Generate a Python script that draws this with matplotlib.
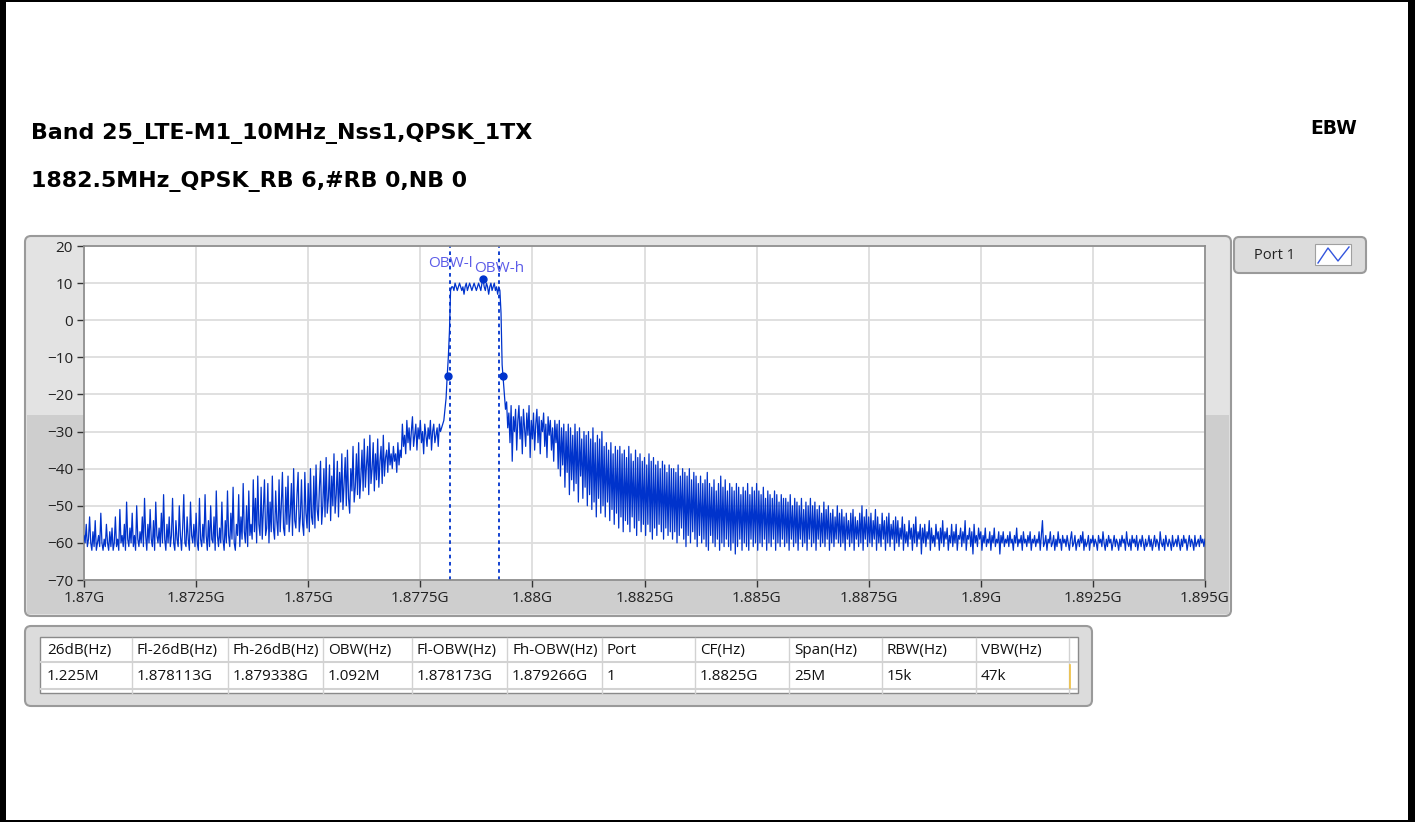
import numpy as np
import matplotlib.pyplot as plt
from matplotlib.patches import FancyBboxPatch, Rectangle

# canvas size in pixels (dpi 100)
W, H = 1415, 822

# spectrum trace, Port 1: 1.870 GHz .. 1.895 GHz, 25 kHz step, level in dBm
f_start_ghz = 1.870
f_stop_ghz = 1.895
level_dbm = [
    -58, -60, -55, -61, -59, -53, -60, -62, -57, -61, -54, -62, -60, -58, -61, -52, -60, -62, -59, -61, -55, -60, -62, -57, -61,
    -56, -62, -60, -53, -61, -59, -62, -51, -60, -58, -61, -55, -62, -49, -59, -61, -56, -60, -52, -61, -58, -62, -50, -59, -61,
    -57, -60, -53, -61, -48, -58, -62, -55, -60, -51, -59, -61, -54, -62, -49, -58, -60, -56, -61, -52, -60, -47, -59, -62, -55,
    -60, -53, -61, -58, -48, -60, -62, -54, -59, -61, -50, -58, -62, -56, -47, -60, -61, -53, -59, -62, -49, -58, -60, -55, -61,
    -52, -60, -62, -48, -59, -61, -55, -60, -47, -58, -62, -54, -61, -50, -59, -60, -53, -62, -46, -58, -61, -56, -60, -49, -59,
    -62, -54, -60, -46, -58, -61, -52, -59, -45, -60, -62, -55, -58, -47, -61, -53, -59, -44, -57, -60, -50, -61, -46, -58, -55,
    -59, -43, -57, -48, -60, -42, -55, -58, -45, -59, -51, -43, -58, -56, -44, -60, -49, -57, -42, -56, -59, -46, -54, -58, -43,
    -57, -50, -41, -56, -58, -45, -55, -42, -57, -52, -44, -58, -40, -54, -56, -47, -41, -57, -53, -43, -55, -58, -41, -52, -56,
    -44, -57, -40, -53, -55, -42, -56, -39, -51, -54, -45, -38, -55, -50, -40, -53, -37, -52, -48, -39, -54, -42, -50, -36, -52,
    -47, -38, -53, -41, -49, -36, -51, -44, -37, -50, -35, -48, -52, -40, -46, -34, -49, -45, -36, -47, -33, -48, -42, -35, -46,
    -32, -45, -39, -34, -47, -31, -44, -40, -33, -46, -36, -43, -32, -45, -38, -34, -44, -31, -42, -37, -35, -41, -33, -39, -36,
    -40, -34, -38, -36, -41, -33, -39, -35, -37, -28, -34, -31, -36, -27, -33, -29, -35, -30, -26, -34, -31, -28, -35, -29, -32,
    -27, -33, -30, -36, -28, -31, -34, -29, -32, -27, -35, -30, -28, -33, -31, -29, -34, -28, -30, -29, -28, -27, -24, -21, -15,
    -10, -3, 8, 9, 9, 8, 10, 9, 8, 9, 10, 9, 8, 9, 7, 9, 10, 8, 9, 10, 9, 8, 9, 10, 9,
    8, 9, 10, 9, 8, 10, 11, 9, 8, 10, 9, 7, 9, 10, 8, 9, 10, 8, 9, 7, 9, 8, 2, -12, -16,
    -20, -24, -22, -29, -25, -33, -23, -38, -26, -30, -24, -35, -27, -23, -32, -26, -36, -24, -29, -34, -25, -31, -23, -37, -27,
    -32, -25, -35, -28, -24, -33, -26, -36, -27, -30, -25, -34, -28, -37, -26, -31, -27, -35, -29, -38, -27, -33, -28, -40, -27,
    -42, -29, -39, -28, -45, -30, -41, -28, -47, -29, -43, -31, -46, -28, -44, -30, -49, -29, -42, -32, -48, -30, -45, -31, -50,
    -30, -47, -32, -51, -29, -49, -33, -53, -31, -48, -32, -52, -30, -50, -34, -53, -33, -49, -35, -54, -33, -51, -36, -55, -34,
    -52, -35, -56, -34, -53, -36, -57, -35, -54, -37, -55, -34, -57, -36, -53, -38, -56, -35, -58, -37, -54, -36, -57, -38, -55,
    -37, -58, -39, -55, -36, -57, -38, -59, -37, -56, -39, -58, -38, -55, -40, -57, -38, -59, -39, -56, -41, -58, -39, -57, -40,
    -59, -40, -57, -41, -60, -39, -58, -42, -56, -40, -59, -41, -61, -42, -58, -40, -60, -43, -57, -41, -59, -42, -61, -44, -58,
    -42, -60, -44, -59, -43, -61, -41, -62, -44, -58, -45, -60, -43, -61, -46, -59, -44, -62, -42, -60, -45, -61, -43, -59, -46,
    -61, -44, -62, -45, -60, -46, -63, -44, -61, -45, -59, -47, -62, -45, -60, -46, -61, -44, -62, -47, -59, -45, -61, -46, -60,
    -44, -62, -46, -60, -47, -61, -45, -59, -48, -62, -46, -60, -47, -61, -48, -59, -46, -62, -47, -60, -49, -61, -47, -59, -48,
    -61, -48, -60, -49, -62, -47, -59, -50, -61, -48, -60, -49, -62, -50, -59, -48, -61, -51, -60, -49, -62, -50, -59, -48, -61,
    -50, -60, -49, -62, -51, -59, -50, -61, -52, -60, -49, -61, -51, -59, -50, -62, -52, -60, -51, -61, -53, -59, -50, -60, -52,
    -61, -51, -60, -53, -62, -52, -59, -54, -61, -52, -60, -51, -62, -53, -59, -54, -61, -52, -60, -50, -62, -53, -59, -51, -61,
    -53, -60, -52, -61, -54, -59, -51, -62, -53, -60, -55, -61, -52, -59, -54, -62, -53, -60, -52, -61, -55, -59, -54, -62, -53,
    -60, -54, -61, -56, -59, -53, -62, -55, -60, -57, -61, -54, -59, -56, -62, -55, -60, -53, -61, -57, -59, -55, -63, -56, -60,
    -55, -61, -57, -59, -54, -62, -56, -60, -58, -61, -55, -59, -57, -62, -56, -60, -54, -61, -57, -59, -56, -62, -58, -60, -55,
    -61, -57, -60, -55, -62, -58, -59, -56, -61, -57, -60, -54, -62, -58, -59, -56, -61, -57, -63, -55, -60, -58, -61, -56, -59,
    -57, -62, -58, -60, -56, -61, -59, -60, -57, -62, -58, -60, -56, -61, -59, -60, -57, -63, -58, -60, -57, -61, -59, -60, -58,
    -61, -57, -60, -59, -62, -58, -60, -56, -61, -59, -60, -58, -62, -57, -60, -59, -61, -58, -60, -57, -62, -59, -60, -58, -61,
    -59, -60, -57, -62, -58, -54, -61, -60, -58, -62, -59, -60, -57, -61, -60, -58, -62, -59, -61, -57, -60, -59, -62, -58, -60,
    -59, -61, -58, -60, -62, -59, -57, -61, -60, -58, -62, -60, -59, -61, -58, -60, -57, -62, -59, -61, -60, -58, -62, -59, -60,
    -58, -61, -59, -60, -62, -58, -60, -59, -61, -57, -60, -62, -59, -61, -58, -60, -59, -62, -60, -58, -61, -59, -60, -62, -59,
    -61, -58, -60, -59, -62, -57, -60, -61, -59, -62, -58, -60, -59, -61, -58, -62, -60, -59, -61, -58, -60, -62, -59, -61, -60,
    -58, -61, -59, -62, -60, -58, -61, -59, -60, -62, -57, -60, -61, -59, -62, -58, -60, -61, -59, -60, -62, -58, -61, -60, -59,
    -61, -58, -60, -62, -59, -61, -58, -60, -59, -62, -60, -58, -61, -59, -60, -62, -58, -61, -60, -59, -61, -58, -60, -59, -61,
    -59,
]

# occupied bandwidth / -26 dB cursors (GHz)
obw_low_ghz = 1.878173
obw_high_ghz = 1.879266
f_low_26db_ghz = 1.878113
f_high_26db_ghz = 1.879338

x_ticks = [1.87, 1.8725, 1.875, 1.8775, 1.88, 1.8825, 1.885, 1.8875, 1.89, 1.8925, 1.895]
y_ticks = [20, 10, 0, -10, -20, -30, -40, -50, -60, -70]

title_lines = ["Band 25_LTE-M1_10MHz_Nss1,QPSK_1TX", "1882.5MHz_QPSK_RB 6,#RB 0,NB 0"]

table_headers = ["26dB(Hz)", "Fl-26dB(Hz)", "Fh-26dB(Hz)", "OBW(Hz)", "Fl-OBW(Hz)", "Fh-OBW(Hz)",
                 "Port", "CF(Hz)", "Span(Hz)", "RBW(Hz)", "VBW(Hz)"]
table_values = ["1.225M", "1.878113G", "1.879338G", "1.092M", "1.878173G", "1.879266G",
                "1", "1.8825G", "25M", "15k", "47k"]

trace_color = "#0033CC"
label_color = "#5C5CE8"
plt.rcParams['font.family'] = ['Open Sans', 'DejaVu Sans']

fig = plt.figure(figsize=(W / 100, H / 100), dpi=100)

# background canvas in pixel coordinates
bg = fig.add_axes([0, 0, 1, 1])
bg.set_xlim(0, W)
bg.set_ylim(H, 0)
bg.axis('off')

# black page border: thick sides, thin top/bottom
bg.add_patch(Rectangle((0, 0), 6, H, fc='black', ec='none'))
bg.add_patch(Rectangle((W - 7, 0), 7, H, fc='black', ec='none'))
bg.add_patch(Rectangle((0, 0), W, 2, fc='black', ec='none'))
bg.add_patch(Rectangle((0, H - 2), W, 2, fc='black', ec='none'))

# titles
bg.text(31, 133, title_lines[0], fontsize=15.9, fontweight='bold', va='center', ha='left',
        family='DejaVu Sans')
bg.text(31, 181, title_lines[1], fontsize=15.9, fontweight='bold', va='center', ha='left',
        family='DejaVu Sans')
bg.text(1357, 128, "EBW", fontsize=13.5, fontweight='bold', va='center', ha='right',
        family='DejaVu Sans')

# graph bezel
bg.add_patch(FancyBboxPatch((25, 236), 1206, 380, boxstyle='round,pad=0,rounding_size=6',
                            fc='#E3E3E3', ec='#9A9A9A', lw=1.5))
bg.add_patch(Rectangle((27, 415), 1202, 199, fc='#CECECE', ec='none'))

# legend box
bg.add_patch(FancyBboxPatch((1234, 237), 132, 36, boxstyle='round,pad=0,rounding_size=5',
                            fc='#DCDCDC', ec='#9A9A9A', lw=1.5))
bg.text(1254, 255, "Port 1", fontsize=10.5, va='center', ha='left', color='#222222')
bg.add_patch(Rectangle((1315, 244), 36, 21, fc='white', ec='#A0A0A0', lw=0.8))
bg.plot([1318, 1328, 1338, 1349], [263, 248, 261, 247], color='#3355DD', lw=1)

# table bezel
bg.add_patch(FancyBboxPatch((25, 626), 1067, 80, boxstyle='round,pad=0,rounding_size=6',
                            fc='#DCDCDC', ec='#9A9A9A', lw=1.5))
bg.add_patch(Rectangle((40, 637), 1038, 56, fc='white', ec='#8A8A8A', lw=1))
col_edges = [42, 132, 228, 323, 412, 507, 602, 695, 789, 882, 976, 1069]
for xe in col_edges[1:]:
    bg.plot([xe, xe], [638, 693], color='#D2D2D2', lw=1)
bg.plot([41, 1077], [662, 662], color='#D2D2D2', lw=1.5)
bg.plot([41, 1077], [689, 689], color='#D2D2D2', lw=1.5)
bg.plot([1070, 1070], [665, 688], color='#F0C040', lw=1.2)
for xe, head, val in zip(col_edges, table_headers, table_values):
    bg.text(xe + 5, 650, head, fontsize=11, va='center', ha='left', color='#111111')
    bg.text(xe + 5, 676, val, fontsize=11, va='center', ha='left', color='#111111')

# spectrum plot
left, right, top, bottom = 84, 1205, 246, 580
ax = fig.add_axes([left / W, 1 - bottom / H, (right - left) / W, (bottom - top) / H])
freq_ghz = np.linspace(f_start_ghz, f_stop_ghz, len(level_dbm))
level = np.array(level_dbm)
ax.plot(freq_ghz, level, color=trace_color, lw=0.9, zorder=3)

# OBW cursors
for fx in (obw_low_ghz, obw_high_ghz):
    ax.axvline(fx, color=trace_color, lw=1.3, linestyle=(0, (2, 2)), zorder=2)
ax.text(obw_low_ghz, 15.2, "OBW-l", color=label_color, fontsize=11, ha='center', va='center')
ax.text(obw_high_ghz, 14.0, "OBW-h", color=label_color, fontsize=11, ha='center', va='center')

# peak and -26 dB markers
ipk = int(np.argmax(level))
peak = level[ipk]
ax.plot([freq_ghz[ipk]], [peak], 'o', color=trace_color, ms=5, zorder=4)
ax.plot([f_low_26db_ghz, f_high_26db_ghz], [peak - 26, peak - 26], 'o', color=trace_color, ms=5, zorder=4)

ax.set_xlim(f_start_ghz, f_stop_ghz)
ax.set_ylim(-70, 20)
ax.set_xticks(x_ticks)
ax.set_xticklabels([f"{t:g}G" for t in x_ticks])
ax.set_yticks(y_ticks)
ax.grid(True, color='#DDDDDD', lw=1.3)
ax.set_axisbelow(True)
ax.tick_params(direction='out', length=5, width=1, color='#333333', labelsize=11,
               labelcolor='#222222', pad=3)
for s in ax.spines.values():
    s.set_color('#8A8A8A')
    s.set_linewidth(1.2)

fig.savefig('out.png', dpi=100)
